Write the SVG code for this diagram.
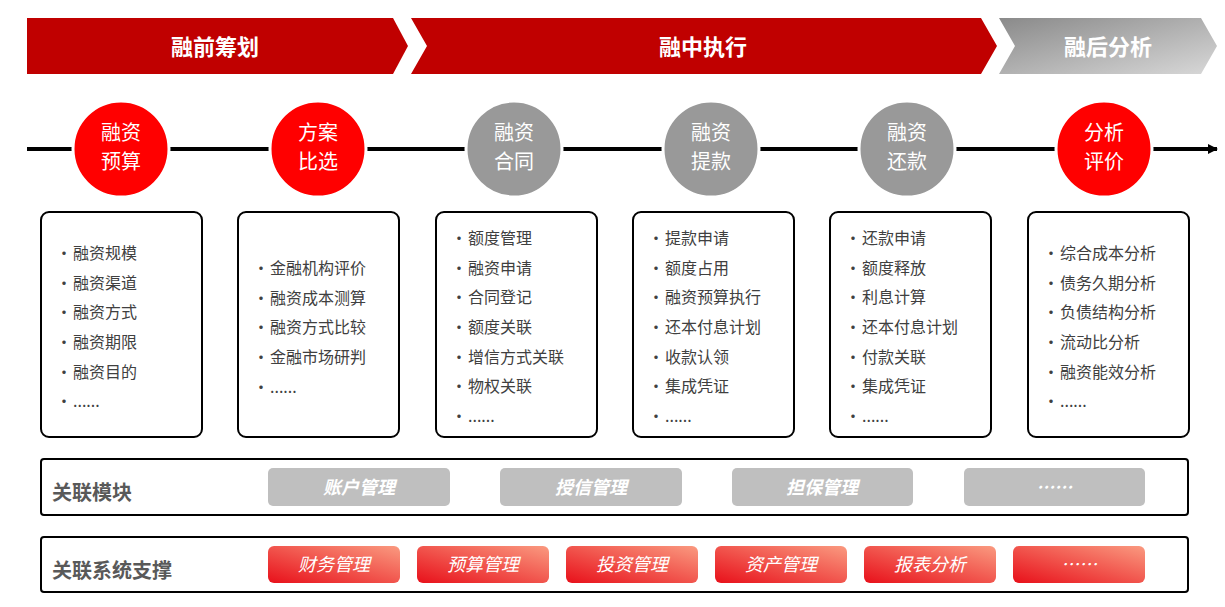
<svg xmlns="http://www.w3.org/2000/svg" width="1225" height="607" viewBox="0 0 1225 607">
<style>
text{font-family:"Noto Sans CJK SC","Liberation Sans",sans-serif}
.bn{fill:#fff;font-size:22px;font-weight:bold;text-anchor:middle}
.ct{fill:#fff;font-size:20px;text-anchor:middle}
.box{fill:#fff;stroke:#000;stroke-width:2}
.it{fill:#404040;font-size:16px}
.rl{fill:#595959;font-size:20px;font-weight:bold}
.gp{fill:#BFBFBF}
.gt{fill:#fff;font-size:18px;font-weight:bold;font-style:italic;text-anchor:middle}
.rp{fill:url(#rg)}
.rt{fill:#fff;font-size:18px;font-style:italic;text-anchor:middle}
</style>
<defs>
<linearGradient id="gg" x1="0" y1="0" x2="1" y2="1"><stop offset="0" stop-color="#8a8a8a"/><stop offset="1" stop-color="#d8d8d8"/></linearGradient>
<linearGradient id="rg" x1="0" y1="1" x2="1" y2="0"><stop offset="0" stop-color="#E8101A"/><stop offset="1" stop-color="#FA9A80"/></linearGradient>
<marker id="ar" markerWidth="10" markerHeight="10" refX="9" refY="5" orient="auto" markerUnits="userSpaceOnUse"><path d="M0,0 L10,5 L0,10 Z" fill="#000"/></marker>
</defs>
<g id="banners">
<polygon points="27,18 393,18 408,46 393,74 27,74" fill="#C00000"/>
<text class="bn" x="215" y="55">融前筹划</text>
<polygon points="411,18 981,18 997,46 981,74 411,74 427,46" fill="#C00000"/>
<text class="bn" x="703" y="55">融中执行</text>
<polygon points="999,18 1201,18 1217,46 1201,74 999,74 1015,46" fill="url(#gg)"/>
<text class="bn" x="1108" y="55">融后分析</text>
</g>
<g id="connectors">
<line x1="27" y1="149" x2="1217" y2="149" stroke="#000" stroke-width="4" marker-end="url(#ar)"/>
</g>
<g id="n1"><circle cx="121" cy="149" r="48" fill="#FF0000" stroke="#fff" stroke-width="3"/><text class="ct" x="121" y="140">融资</text><text class="ct" x="121" y="169">预算</text></g>
<g id="n2"><circle cx="318" cy="149" r="48" fill="#FF0000" stroke="#fff" stroke-width="3"/><text class="ct" x="318" y="140">方案</text><text class="ct" x="318" y="169">比选</text></g>
<g id="n3"><circle cx="514" cy="149" r="48" fill="#999" stroke="#fff" stroke-width="3"/><text class="ct" x="514" y="140">融资</text><text class="ct" x="514" y="169">合同</text></g>
<g id="n4"><circle cx="711" cy="149" r="48" fill="#999" stroke="#fff" stroke-width="3"/><text class="ct" x="711" y="140">融资</text><text class="ct" x="711" y="169">提款</text></g>
<g id="n5"><circle cx="907" cy="149" r="48" fill="#999" stroke="#fff" stroke-width="3"/><text class="ct" x="907" y="140">融资</text><text class="ct" x="907" y="169">还款</text></g>
<g id="n6"><circle cx="1104" cy="149" r="48" fill="#FF0000" stroke="#fff" stroke-width="3"/><text class="ct" x="1104" y="140">分析</text><text class="ct" x="1104" y="169">评价</text></g>
<g id="b1"><rect class="box" x="41" y="212" width="161" height="225" rx="8"/>
<g class="it"><text x="56" y="259">•</text><text x="73" y="259">融资规模</text><text x="56" y="289">•</text><text x="73" y="289">融资渠道</text><text x="56" y="318">•</text><text x="73" y="318">融资方式</text><text x="56" y="348">•</text><text x="73" y="348">融资期限</text><text x="56" y="378">•</text><text x="73" y="378">融资目的</text><text x="56" y="407">•</text><text x="73" y="407">......</text></g></g>
<g id="b2"><rect class="box" x="238" y="212" width="161" height="225" rx="8"/>
<g class="it"><text x="253" y="274">•</text><text x="270" y="274">金融机构评价</text><text x="253" y="304">•</text><text x="270" y="304">融资成本测算</text><text x="253" y="333">•</text><text x="270" y="333">融资方式比较</text><text x="253" y="363">•</text><text x="270" y="363">金融市场研判</text><text x="253" y="393">•</text><text x="270" y="393">......</text></g></g>
<g id="b3"><rect class="box" x="436" y="212" width="161" height="225" rx="8"/>
<g class="it"><text x="451" y="244">•</text><text x="468" y="244">额度管理</text><text x="451" y="274">•</text><text x="468" y="274">融资申请</text><text x="451" y="303">•</text><text x="468" y="303">合同登记</text><text x="451" y="333">•</text><text x="468" y="333">额度关联</text><text x="451" y="363">•</text><text x="468" y="363">增信方式关联</text><text x="451" y="392">•</text><text x="468" y="392">物权关联</text><text x="451" y="422">•</text><text x="468" y="422">......</text></g></g>
<g id="b4"><rect class="box" x="633" y="212" width="161" height="225" rx="8"/>
<g class="it"><text x="648" y="244">•</text><text x="665" y="244">提款申请</text><text x="648" y="274">•</text><text x="665" y="274">额度占用</text><text x="648" y="303">•</text><text x="665" y="303">融资预算执行</text><text x="648" y="333">•</text><text x="665" y="333">还本付息计划</text><text x="648" y="363">•</text><text x="665" y="363">收款认领</text><text x="648" y="392">•</text><text x="665" y="392">集成凭证</text><text x="648" y="422">•</text><text x="665" y="422">......</text></g></g>
<g id="b5"><rect class="box" x="830" y="212" width="161" height="225" rx="8"/>
<g class="it"><text x="845" y="244">•</text><text x="862" y="244">还款申请</text><text x="845" y="274">•</text><text x="862" y="274">额度释放</text><text x="845" y="303">•</text><text x="862" y="303">利息计算</text><text x="845" y="333">•</text><text x="862" y="333">还本付息计划</text><text x="845" y="363">•</text><text x="862" y="363">付款关联</text><text x="845" y="392">•</text><text x="862" y="392">集成凭证</text><text x="845" y="422">•</text><text x="862" y="422">......</text></g></g>
<g id="b6"><rect class="box" x="1028" y="212" width="161" height="225" rx="8"/>
<g class="it"><text x="1043" y="259">•</text><text x="1060" y="259">综合成本分析</text><text x="1043" y="289">•</text><text x="1060" y="289">债务久期分析</text><text x="1043" y="318">•</text><text x="1060" y="318">负债结构分析</text><text x="1043" y="348">•</text><text x="1060" y="348">流动比分析</text><text x="1043" y="378">•</text><text x="1060" y="378">融资能效分析</text><text x="1043" y="407">•</text><text x="1060" y="407">......</text></g></g>
<g id="modules"><rect class="box" x="41" y="459" width="1147" height="56" rx="3"/>
<text class="rl" x="52" y="500">关联模块</text>
<rect class="gp" x="268" y="468" width="182" height="38" rx="5"/><text class="gt" x="359" y="494">账户管理</text>
<rect class="gp" x="500" y="468" width="182" height="38" rx="5"/><text class="gt" x="591" y="494">授信管理</text>
<rect class="gp" x="732" y="468" width="181" height="38" rx="5"/><text class="gt" x="822" y="494">担保管理</text>
<rect class="gp" x="964" y="468" width="181" height="38" rx="5"/><text class="gt" x="1054" y="494">……</text></g>
<g id="systems"><rect class="box" x="41" y="537" width="1147" height="55" rx="3"/>
<text class="rl" x="52" y="578">关联系统支撑</text>
<rect class="rp" x="268" y="546" width="132" height="37" rx="6"/><text class="rt" x="334" y="571">财务管理</text>
<rect class="rp" x="417" y="546" width="132" height="37" rx="6"/><text class="rt" x="483" y="571">预算管理</text>
<rect class="rp" x="566" y="546" width="132" height="37" rx="6"/><text class="rt" x="632" y="571">投资管理</text>
<rect class="rp" x="715" y="546" width="132" height="37" rx="6"/><text class="rt" x="781" y="571">资产管理</text>
<rect class="rp" x="864" y="546" width="132" height="37" rx="6"/><text class="rt" x="930" y="571">报表分析</text>
<rect class="rp" x="1013" y="546" width="132" height="37" rx="6"/><text class="rt" x="1079" y="571">……</text></g>
</svg>
